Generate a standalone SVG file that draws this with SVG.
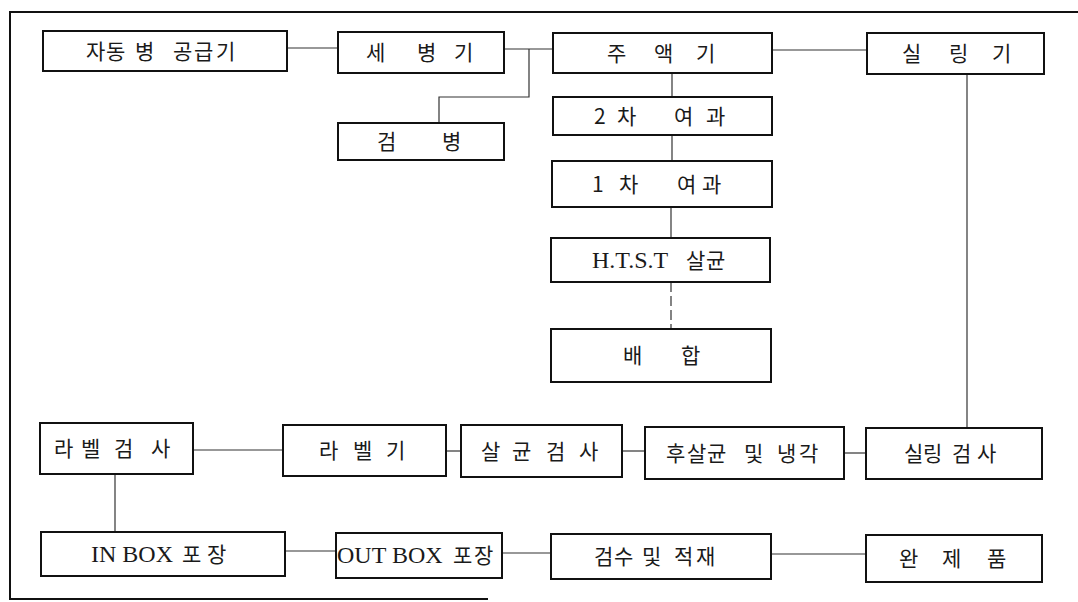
<svg xmlns="http://www.w3.org/2000/svg" width="1078" height="602" viewBox="0 0 1078 602">
<style>
.box{fill:#fff;stroke:#111;stroke-width:2}
.con{stroke:#333;stroke-width:1.2;fill:none}
.frame{stroke:#111;stroke-width:2;fill:none}
.t{font-family:"Noto Sans CJK KR","Noto Sans",sans-serif;font-size:21px;fill:#1a1a1a}
.lat{font-family:"Liberation Serif",serif;font-size:24px}
</style>
<rect width="1078" height="602" fill="#fff"/>
<path class="frame" d="M1078 12 H10 V599 H488"/>
<g id="connectors">
<line class="con" x1="287" y1="48" x2="338" y2="48"/>
<line class="con" x1="504" y1="49" x2="553" y2="49"/>
<polyline class="con" points="529,49 529,97 439,97 439,123"/>
<line class="con" x1="672" y1="73" x2="672" y2="97"/>
<line class="con" x1="672" y1="135" x2="672" y2="161"/>
<line class="con" x1="671" y1="207" x2="671" y2="238"/>
<line class="con" x1="671" y1="282" x2="671" y2="329" stroke-dasharray="10 4"/>
<line class="con" x1="772" y1="50" x2="867" y2="50"/>
<line class="con" x1="967" y1="74" x2="967" y2="428"/>
<line class="con" x1="193" y1="450" x2="283" y2="450"/>
<line class="con" x1="446" y1="451" x2="461" y2="451"/>
<line class="con" x1="622" y1="451" x2="645" y2="451"/>
<line class="con" x1="844" y1="453" x2="866" y2="453"/>
<line class="con" x1="115" y1="474" x2="115" y2="532"/>
<line class="con" x1="285" y1="551" x2="336" y2="551"/>
<line class="con" x1="502" y1="553" x2="551" y2="553"/>
<line class="con" x1="771" y1="554" x2="866" y2="554"/>
</g>
<g id="n-autofeed"><rect class="box" x="43" y="31" width="244" height="40"/><text class="t" x="86 106 127 135 156 173 194 216" y="59">자동 병 공급기</text></g>
<g id="n-washer"><rect class="box" x="338" y="32" width="166" height="41"/><text class="t" x="366 387 417 438 454" y="60">세 병 기</text></g>
<g id="n-inspect-bottle"><rect class="box" x="338" y="123" width="166" height="37"/><text class="t" x="377 400 442" y="149">검 병</text></g>
<g id="n-filler"><rect class="box" x="553" y="33" width="219" height="40"/><text class="t" x="607 630 654 677 696" y="61">주 액 기</text></g>
<g id="n-filter2"><rect class="box" x="553" y="97" width="219" height="38"/><text class="t" x="594 605 617 640 674 695 706" y="124">2 차 여 과</text></g>
<g id="n-filter1"><rect class="box" x="552" y="161" width="220" height="46"/><text class="t" x="592 603 619 640 677 695 702" y="192">1 차 여 과</text></g>
<g id="n-htst"><rect class="box" x="551" y="238" width="219" height="44"/><text class="t" y="268"><tspan class="lat" x="592">H.T.S.T </tspan><tspan x="686 706">살균</tspan></text></g>
<g id="n-blend"><rect class="box" x="551" y="329" width="220" height="53"/><text class="t" x="623 650 681" y="363">배 합</text></g>
<g id="n-sealer"><rect class="box" x="867" y="33" width="177" height="41"/><text class="t" x="902 925 949 970 992" y="61">실 링 기</text></g>
<g id="n-label-inspect"><rect class="box" x="40" y="423" width="153" height="51"/><text class="t" x="54 75 81 102 114 135 151" y="456">라 벨 검 사</text></g>
<g id="n-labeler"><rect class="box" x="283" y="425" width="163" height="51"/><text class="t" x="319 340 353 374 386" y="458">라 벨 기</text></g>
<g id="n-steril-inspect"><rect class="box" x="461" y="425" width="161" height="52"/><text class="t" x="481 502 512 533 546 567 579" y="459">살 균 검 사</text></g>
<g id="n-post-steril"><rect class="box" x="645" y="427" width="199" height="52"/><text class="t" x="666 687 707 728 744 765 777 799" y="461">후살균 및 냉각</text></g>
<g id="n-seal-inspect"><rect class="box" x="866" y="428" width="176" height="51"/><text class="t" x="904 923 944 952 977" y="461">실링 검사</text></g>
<g id="n-inbox"><rect class="box" x="41" y="532" width="244" height="44"/><text class="t" y="562"><tspan class="lat" x="91">IN BOX </tspan><tspan x="182 207">포장</tspan></text></g>
<g id="n-outbox"><rect class="box" x="336" y="533" width="166" height="45"/><text class="t" y="563"><tspan class="lat" x="337">OUT BOX </tspan><tspan x="453 474">포장</tspan></text></g>
<g id="n-check-load"><rect class="box" x="551" y="534" width="220" height="45"/><text class="t" x="594 614 635 642 663 674 696" y="564">검수 및 적재</text></g>
<g id="n-final"><rect class="box" x="866" y="535" width="176" height="47"/><text class="t" x="899 920 942 963 987" y="566">완 제 품</text></g>
</svg>
